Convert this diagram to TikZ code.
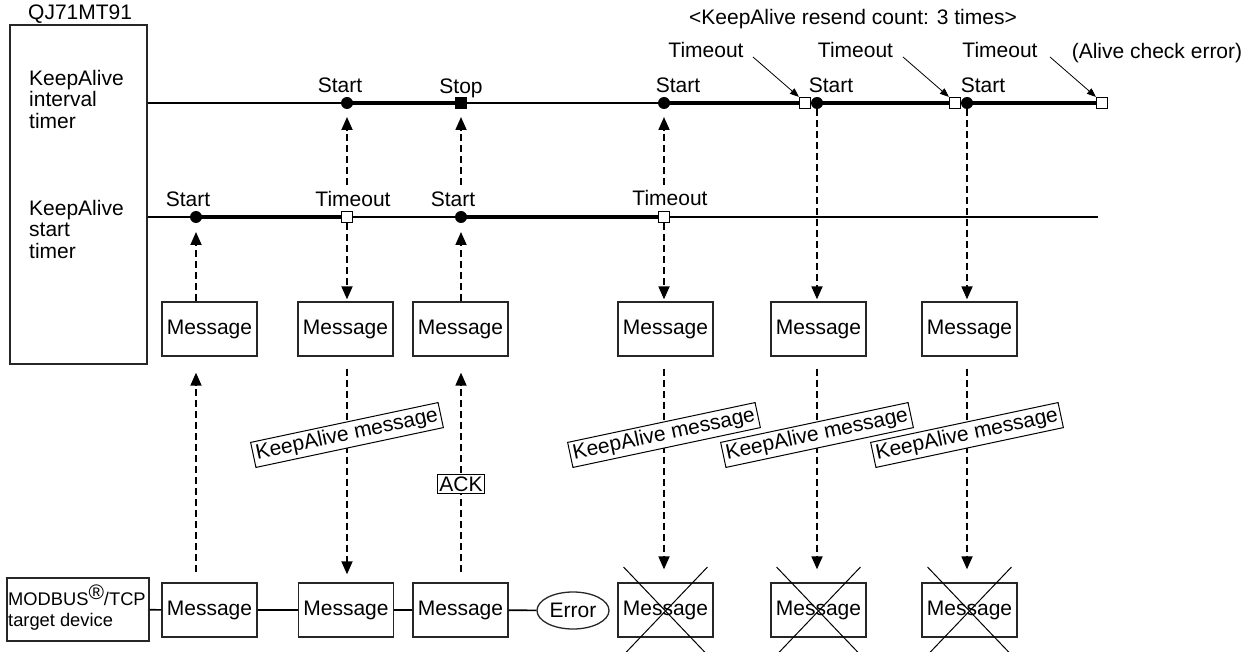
\documentclass[tikz,border=0pt]{standalone}
\usepackage{fontspec}
\setmainfont{Liberation Sans}
\usetikzlibrary{arrows.meta,shapes.geometric}
\begin{document}
\begin{tikzpicture}[x=1pt,y=-1pt,
  every node/.style={font=\fontsize{21}{21.5}\selectfont, inner sep=0pt},
  msg/.style={draw=black!85, line width=1.3pt, minimum width=95pt, minimum height=54pt, fill=white},
  tline/.style={line width=1.6pt},
  tbar/.style={line width=4pt},
  dotm/.style={circle, fill=black, minimum size=12pt},
  sqm/.style={draw=black, line width=1.2pt, fill=white, minimum size=11pt},
  sqf/.style={draw=black, line width=1.2pt, fill=black, minimum size=11pt},
  dasharrow/.style={line width=1.8pt, dash pattern=on 7pt off 4pt, -{Triangle[length=13pt,width=11pt]}},
  kalbl/.style={draw, line width=1pt, fill=white, inner xsep=3pt, inner ysep=3pt, rotate=12},
  ptr/.style={line width=0.8pt, -{Triangle[length=9pt,width=7pt]}},
  xline/.style={line width=1pt}
]
\useasboundingbox (0,0) rectangle (1258,652);

% left module box
\node[anchor=base west] (qjt) at (28,20) {QJ71MT91};
\node[draw=black!85, line width=1.3pt, minimum width=137pt, minimum height=339pt] (qj) at (78.5,194.5) {};
\node[anchor=north west, align=left] (itl) at (29,70) {KeepAlive\\interval\\timer};
\node[anchor=north west, align=left] (stl) at (29,200) {KeepAlive\\start\\timer};

% timeline coordinates
\coordinate (iend) at (1102,103);
\coordinate (send) at (1098,217);
\draw[tline] (qj.east |- iend) -- (iend);
\draw[tline] (qj.east |- send) -- (send);

% thick running segments
\draw[tbar] (347,103) -- (461,103);
\draw[tbar] (664,103) -- (805,103);
\draw[tbar] (817,103) -- (955,103);
\draw[tbar] (967,103) -- (1102,103);
\draw[tbar] (196,217) -- (347,217);
\draw[tbar] (461,217) -- (664,217);

% markers interval timer
\node[dotm] (i1) at (347,103) {};
\node[sqf]  (i2) at (461,103) {};
\node[dotm] (i3) at (664,103) {};
\node[sqm]  (i4) at (805,103) {};
\node[dotm] (i5) at (817,103) {};
\node[sqm]  (i6) at (955,103) {};
\node[dotm] (i7) at (967,103) {};
\node[sqm]  (i8) at (1102,103) {};
% markers start timer
\node[dotm] (s1) at (196,217) {};
\node[sqm]  (s2) at (347,217) {};
\node[dotm] (s3) at (461,217) {};
\node[sqm]  (s4) at (664,217) {};

% labels interval timer
\node[anchor=base] (li1) at (340,93) {Start};
\node[anchor=base] (li2) at (461,94) {Stop};
\node[anchor=base] (li3) at (678,93) {Start};
\node[anchor=base] (li5) at (831,93) {Start};
\node[anchor=base] (li7) at (983,93) {Start};
% labels start timer
\node[anchor=base] (ls1) at (188,207) {Start};
\node[anchor=base] (ls2) at (353,207) {Timeout};
\node[anchor=base] (ls3) at (453,207) {Start};
\node[anchor=base] (ls4) at (670,206) {Timeout};

% top labels
\node[anchor=base] (rs) at (853,25) {<KeepAlive resend count: 3 times>};
\node[anchor=base] (t1) at (706,58) {Timeout};
\node[anchor=base] (t2) at (855.5,58) {Timeout};
\node[anchor=base] (t3) at (1000,58) {Timeout};
\node[anchor=base] (ace) at (1157,59) {(Alive check error)};
\coordinate (p1) at (753,57);
\coordinate (p2) at (903,57);
\coordinate (p3) at (1050,57);
\draw[ptr] (p1) -- (i4.north west);
\draw[ptr] (p2) -- (i6.north west);
\draw[ptr] (p3) -- (i8.north west);

% upper message boxes
\node[msg] (u1) at (209.5,329) {Message};
\node[msg] (u2) at (345.5,329) {Message};
\node[msg] (u3) at (460.5,329) {Message};
\node[msg] (u4) at (665.5,329) {Message};
\node[msg] (u5) at (818.5,329) {Message};
\node[msg] (u6) at (969.5,329) {Message};

% bottom row
\node[draw=black!85, line width=1.3pt, minimum width=142pt, minimum height=63pt] (mb) at (78,609.5) {};
\node[anchor=north west, align=left, font=\fontsize{18.3}{20.5}\selectfont] (mbt) at (8,585)
  {MODBUS\raisebox{6pt}{\fontsize{21}{21}\selectfont\textregistered}/TCP\\target device};
\node[msg] (b1) at (209.5,610) {Message};
\node[msg] (b2) at (346,610) {Message};
\node[msg] (b3) at (460.5,610) {Message};
\node[draw=black!85, line width=1.3pt, ellipse, minimum width=72pt, minimum height=37pt] (err) at (573,610.5) {Error};
\node[msg] (b4) at (665.5,610) {Message};
\node[msg] (b5) at (818.5,610) {Message};
\node[msg] (b6) at (969.5,610) {Message};

\draw[tline] (mb) -- (b1);
\draw[tline] (b1) -- (b2);
\draw[tline] (b2) -- (b3);
\draw[tline] (b3) -- (err);

% crosses
\foreach \b in {b4,b5,b6}{
  \draw[xline] ([xshift=-42pt,yshift=43pt]\b.center) -- ([xshift=42pt,yshift=-45pt]\b.center);
  \draw[xline] ([xshift=42pt,yshift=43pt]\b.center) -- ([xshift=-42pt,yshift=-45pt]\b.center);
}

% dashed arrows, x = 196
\draw[dasharrow] ([yshift=10pt]s1 |- b1.north) -- ([yshift=-16pt]s1 |- u1.south);
\draw[dasharrow] (s1 |- u1.north) -- ([yshift=-15pt]s1.center);
% x = 347
\draw[dasharrow] ([yshift=32pt]s2.center) -- ([yshift=-14pt]i1.center);
\draw[dasharrow] (s2.south) -- ([yshift=2pt]s2 |- u2.north);
\draw[dasharrow] ([yshift=-12pt]s2 |- u2.south) -- ([yshift=8pt]s2 |- b2.north);
% x = 461
\draw[dasharrow] ([yshift=32pt]s3.center) -- ([yshift=-14pt]i2.center);
\draw[dasharrow] (s3 |- u3.north) -- ([yshift=-15pt]s3.center);
\draw[dasharrow] ([yshift=10pt]s3 |- b3.north) -- ([yshift=-16pt]s3 |- u3.south);
% x = 664
\draw[dasharrow] ([yshift=32pt]s4.center) -- ([yshift=-14pt]i3.center);
\draw[dasharrow] (s4.south) -- ([yshift=2pt]s4 |- u4.north);
\draw[dasharrow] ([yshift=-12pt]s4 |- u4.south) -- ([yshift=13pt]s4 |- b4.north);
% x = 817
\draw[dasharrow] (i5.south) -- ([yshift=2pt]i5 |- u5.north);
\draw[dasharrow] ([yshift=-12pt]i5 |- u5.south) -- ([yshift=13pt]i5 |- b5.north);
% x = 967
\draw[dasharrow] (i7.south) -- ([yshift=2pt]i7 |- u6.north);
\draw[dasharrow] ([yshift=-12pt]i7 |- u6.south) -- ([yshift=13pt]i7 |- b6.north);

% KeepAlive message labels and ACK
\node[kalbl] (k1) at (347,435) {KeepAlive message};
\node[kalbl] (k2) at (664,435) {KeepAlive message};
\node[kalbl] (k3) at (817,435) {KeepAlive message};
\node[kalbl] (k4) at (967,435) {KeepAlive message};
\node[draw, line width=1pt, fill=white, inner xsep=1.5pt, inner ysep=2pt] (ack) at (461,484) {ACK};

\end{tikzpicture}
\end{document}
